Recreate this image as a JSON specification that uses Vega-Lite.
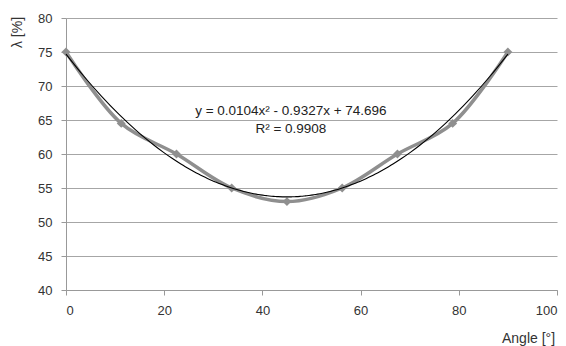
{
  "$schema": "https://vega.github.io/schema/vega-lite/v6.json",
  "width": 491,
  "height": 272,
  "autosize": {"type": "none"},
  "padding": {"left": 66, "top": 18, "right": 9, "bottom": 56},
  "background": "white",
  "config": {
    "view": {"stroke": null},
    "font": "Liberation Sans",
    "axis": {
      "labelFont": "Liberation Sans",
      "titleFont": "Liberation Sans",
      "labelFontSize": 13,
      "titleFontSize": 14,
      "labelColor": "#333333",
      "titleColor": "#333333",
      "titleFontWeight": "normal",
      "domainColor": "#999999",
      "tickColor": "#999999",
      "gridColor": "#a6a6a6",
      "gridOpacity": 1,
      "labelOverlap": false
    }
  },
  "encoding": {
    "x": {"field": "angle", "type": "quantitative",
      "scale": {"domain": [0, 100], "nice": false},
      "axis": {"values": [0, 20, 40, 60, 80, 100], "grid": false, "title": "Angle [°]",
        "tickSize": 5, "labelPadding": 9, "titleAlign": "center",
        "titleBaseline": "middle", "titleX": 462, "titleY": 48}},
    "y": {"field": "lambda", "type": "quantitative",
      "scale": {"domain": [40, 80], "nice": false, "zero": false},
      "axis": {"values": [40, 45, 50, 55, 60, 65, 70, 75, 80], "grid": true, "title": "λ [%]",
        "tickSize": 5, "labelPadding": 9, "titleAngle": 270,
        "titleAlign": "center", "titleBaseline": "middle", "titleX": -49, "titleY": 14}}
  },
  "layer": [
    {
      "data": {"values": [
        {"angle": 0, "lambda": 75},
        {"angle": 11.25, "lambda": 64.5},
        {"angle": 22.5, "lambda": 60},
        {"angle": 33.75, "lambda": 55},
        {"angle": 45, "lambda": 53},
        {"angle": 56.25, "lambda": 55},
        {"angle": 67.5, "lambda": 60},
        {"angle": 78.75, "lambda": 64.5},
        {"angle": 90, "lambda": 75}
      ]},
      "layer": [
        {
          "mark": {"type": "line", "interpolate": "catmull-rom", "color": "#8f8f8f", "strokeWidth": 3.5}
        },
        {
          "mark": {"type": "point", "shape": "diamond", "filled": true, "color": "#8f8f8f", "size": 80, "opacity": 1}
        },
        {
          "transform": [
            {"regression": "lambda", "on": "angle", "method": "poly", "order": 2, "extent": [0, 90]}
          ],
          "mark": {"type": "line", "color": "#000000", "strokeWidth": 1.1, "interpolate": "monotone"}
        }
      ]
    },
    {
      "data": {"values": [
        {"angle": 45.8, "lambda": 66.3, "label": "y = 0.0104x² - 0.9327x + 74.696"},
        {"angle": 45.8, "lambda": 63.7, "label": "R² = 0.9908"}
      ]},
      "mark": {"type": "text", "fontSize": 13.5, "color": "#222222", "align": "center", "baseline": "middle", "font": "Liberation Sans"},
      "encoding": {
        "text": {"field": "label"}
      }
    }
  ]
}
